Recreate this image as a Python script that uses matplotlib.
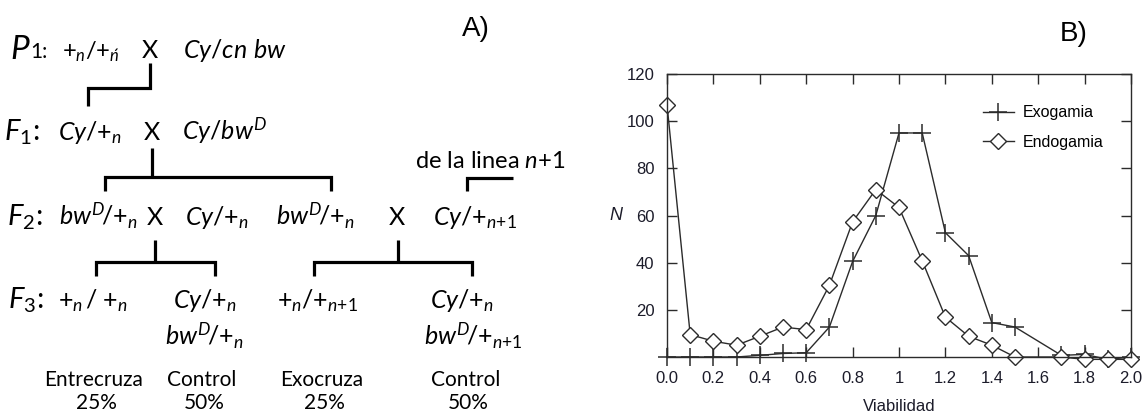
import matplotlib
matplotlib.use("Agg")
import matplotlib.pyplot as plt

# datos de la figura B
viab_exo = [0.0, 0.1, 0.2, 0.3, 0.4, 0.5, 0.6, 0.7, 0.8, 0.9, 1.0, 1.1, 1.2, 1.3, 1.4, 1.5, 1.7, 1.8, 1.9, 2.0]
exogamia = [0, 0, 0, 0, 0.7, 1.5, 1.8, 12.7, 40.5, 60, 95, 95, 52.7, 43, 14.6, 12.7, 0.7, 1.1, -1, 0]
viab_endo = [0.0, 0.1, 0.2, 0.3, 0.4, 0.5, 0.6, 0.7, 0.8, 0.9, 1.0, 1.1, 1.2, 1.3, 1.4, 1.5, 1.7, 1.8, 1.9, 2.0]
endogamia = [107, 9.5, 6.7, 5, 8.8, 12.7, 11.6, 30.4, 57.3, 71, 63.4, 40.8, 16.9, 8.8, 5, 0, 0, -1, -1, -1]

x_ticks = [0.0, 0.2, 0.4, 0.6, 0.8, 1.0, 1.2, 1.4, 1.6, 1.8, 2.0]
x_labels = ["0.0", "0.2", "0.4", "0.6", "0.8", "1", "1.2", "1.4", "1.6", "1.8", "2.0"]
y_ticks = [20, 40, 60, 80, 100, 120]

plt.rcParams["mathtext.fontset"] = "custom"
plt.rcParams["mathtext.rm"] = "Lato"
plt.rcParams["mathtext.it"] = "Lato:italic"
plt.rcParams["mathtext.bf"] = "Lato:bold"
plt.rcParams["mathtext.sf"] = "Lato"

fig = plt.figure(figsize=(11.42, 4.15), dpi=100)

# ---- A) esquema de cruzas, en coordenadas de pixel
ax0 = fig.add_axes([0, 0, 1, 1])
ax0.set_xlim(0, 1142)
ax0.set_ylim(415, 0)
ax0.axis("off")

fd = "Lato"
fs = 18


def t(x, y, s, ha="left", size=fs, **kw):
    ax0.text(x, y, s, ha=ha, va="baseline", fontsize=size, family=fd, **kw)


def seg(xs, ys):
    ax0.plot(xs, ys, color="black", lw=2.3, solid_capstyle="butt", solid_joinstyle="miter")


# P1
t(10, 59, "$P$", size=24)
t(30, 58, "1:", size=15)
t(62, 58, r"${+}_{n}/{+}_{\acute{n}}$", size=17)
t(150, 58, "X", ha="center")
t(183, 58, r"$Cy/cn\ bw$")
# F1
t(4, 140, r"$F_{1}$:", size=21)
t(58, 140, r"$Cy/{+}_{n}$")
t(152, 140, "X", ha="center")
t(182, 140, r"$Cy/bw^{D}$")
t(415, 168, r"de la linea $n$+1", size=17)
# F2
t(7, 225, r"$F_{2}$:", size=21)
t(59, 225, r"$bw^{D}\!/{+}_{n}$")
t(155, 225, "X", ha="center")
t(185, 225, r"$Cy/{+}_{n}$")
t(276, 225, r"$bw^{D}\!/{+}_{n}$")
t(397, 225, "X", ha="center")
t(433, 225, r"$Cy/{+}_{n{+}1}$")
# F3
t(8, 308, r"$F_{3}$:", size=21)
t(58, 308, r"${+}_{n}\,/\;{+}_{n}$")
t(173, 308, r"$Cy/{+}_{n}$")
t(165, 345, r"$bw^{D}\!/{+}_{n}$")
t(277, 308, r"${+}_{n}/{+}_{n{+}1}$")
t(430, 308, r"$Cy/{+}_{n}$")
t(424, 345, r"$bw^{D}\!/{+}_{n{+}1}$")
# porcentajes
for cx, top, bot in [(94, "Entrecruza", "25%"), (202, "Control", "50%"),
                     (322, "Exocruza", "25%"), (466, "Control", "50%")]:
    t(cx, 386, top, ha="center", size=15)
    t(cx + 2, 409, bot, ha="center", size=15)

seg([150, 150, 88, 88], [63, 88, 88, 106])
seg([152, 152], [148, 177])
seg([105, 105, 331, 331], [191, 177, 177, 191])
seg([467, 467, 513], [191, 178, 178])
seg([155, 155], [240, 262])
seg([96, 96, 215, 215], [276, 262, 262, 276])
seg([398, 398], [240, 262])
seg([314, 314, 472, 472], [276, 262, 262, 276])

ax0.text(462, 36, "A)", fontsize=20, family="Liberation Sans", va="baseline")
ax0.text(1060, 41, "B)", fontsize=20, family="Liberation Sans", va="baseline")

# ---- B) grafico de viabilidad
ax = fig.add_axes([667 / 1142, 1 - 357 / 415, 464 / 1142, 283 / 415])
lc = "#2b2b2b"
ax.plot(viab_exo, exogamia, color=lc, lw=1.0, marker="+", ms=13, mew=1.1,
        clip_on=False, label="Exogamia")
ax.plot(viab_endo, endogamia, color=lc, lw=1.0, marker="D", ms=8.5, mfc="white",
        mec=lc, mew=1.0, clip_on=False, label="Endogamia")
ax.set_xlim(0, 2.0)
ax.set_ylim(0, 120)
ax.set_xticks(x_ticks)
ax.set_xticklabels(x_labels)
ax.set_yticks(y_ticks)
ax.tick_params(direction="in", length=7, width=1.0, top=True, right=True,
               labelsize=12, labelcolor="#1c1c2a", color=lc)
ax.tick_params(axis="x", pad=10)
ax.tick_params(axis="y", pad=9)
for lab in ax.get_xticklabels() + ax.get_yticklabels():
    lab.set_family("Liberation Sans")
for sp in ax.spines.values():
    sp.set_color(lc)
    sp.set_linewidth(1.0)
ax.set_ylabel("N", rotation=0, fontsize=13, style="italic", family="Liberation Sans",
              color="#1c1c2a", va="center")
ax.yaxis.set_label_coords(-0.11, 0.5)
ax.set_xlabel("Viabilidad", fontsize=12, family="Liberation Sans", color="#1c1c2a")
ax.xaxis.set_label_coords(0.5, -0.15)
leg = ax.legend(loc="upper left", bbox_to_anchor=(0.68, 0.89), frameon=False,
                borderpad=0, borderaxespad=0, handlelength=2.0, handletextpad=0.5,
                labelspacing=0.9, prop={"family": "Liberation Sans", "size": 11.5})

fig.savefig("out.png", dpi=100)
